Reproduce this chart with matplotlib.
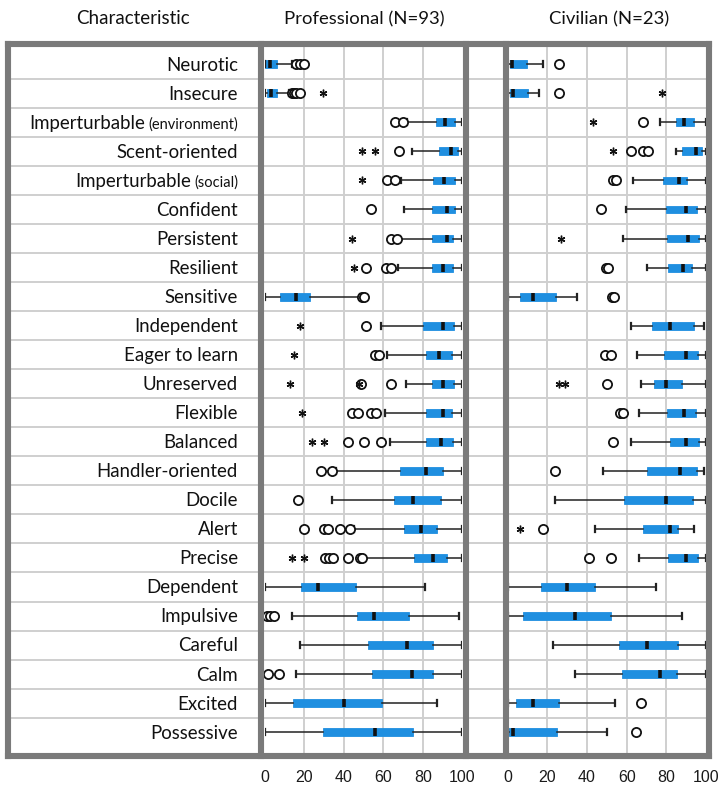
import matplotlib
matplotlib.use("Agg")
import matplotlib.pyplot as plt
from matplotlib.lines import Line2D
import matplotlib.transforms as mtrans

# ---------------- data ----------------
categories = ["Neurotic", "Insecure", "Imperturbable", "Scent-oriented", "Imperturbable",
              "Confident", "Persistent", "Resilient", "Sensitive", "Independent",
              "Eager to learn", "Unreserved", "Flexible", "Balanced", "Handler-oriented",
              "Docile", "Alert", "Precise", "Dependent", "Impulsive", "Careful", "Calm",
              "Excited", "Possessive"]
category_notes = ["", "", "(environment)", "", "(social)", "", "", "", "", "", "", "", "",
                  "", "", "", "", "", "", "", "", "", "", ""]

panel_titles = ["Professional (N=93)", "Civilian (N=23)"]
tick_values = [0, 20, 40, 60, 80, 100]

prof_whislo = [0, 0, 72, 74.4, 69, 70.5, 68.5, 67.6, 0, 59, 62, 71.5, 61, 63.4, 36, 34, 45, 50,
               0, 14, 18, 16, 0, 0]
prof_q1 = [0, 1.3, 86.5, 88.4, 85.3, 84.5, 84.5, 84.5, 7.5, 80.3, 81.4, 84.5, 81.4, 81.4, 68.5,
           65.4, 70.5, 75.7, 18.3, 46.5, 52.4, 54.4, 14.4, 29.3]
prof_med = [2.6, 3.1, 91.2, 94.3, 90.7, 92.4, 92.4, 90.4, 16, 90.4, 88.4, 90.4, 90.4, 89.2, 81.4,
            75.2, 79, 85, 27, 55.3, 72, 74.4, 40.3, 56]
prof_q3 = [6, 6, 96.3, 98, 96.3, 96.3, 95.5, 95.5, 23, 96, 94.6, 96, 95, 95.5, 90.4, 89.2, 87.4,
           92, 46, 73.2, 85.3, 85.3, 59.2, 75.2]
prof_whishi = [14, 12.5, 100, 100, 100, 100, 100, 100, 48, 100, 100, 100, 100, 100, 100, 100, 100,
               100, 81, 98.3, 100, 100, 87.4, 100]
prof_circles = [[16, 18, 20], [13.6, 15, 16, 18], [66, 70], [68], [62, 66], [54], [64, 67],
                [51, 61.5, 64], [49, 50], [51], [56, 58], [48.5, 64], [44, 47, 54, 56.3],
                [42.3, 50, 59], [28.3, 34], [17], [20, 30, 31.8, 38, 43],
                [30.5, 32.5, 34.7, 42.3, 48, 49], [], [1, 2.6, 4.7], [], [1.8, 7], [], []]
prof_stars = [[], [29.3], [], [49, 56], [49], [], [44], [45], [], [18], [15], [12.8, 47.5],
              [19], [24, 30], [], [], [], [14, 20], [], [], [], [], [], []]

civ_whislo = [0, 0, 77, 85, 63, 59.7, 58, 70, 0, 62, 65, 67, 66, 62, 48, 24, 44, 66, 0, 0, 22.7,
              34, 0, 0]
civ_q1 = [1, 1, 85, 87.7, 78.5, 80, 80.5, 81, 6.2, 72.6, 79, 73.8, 80.5, 81.8, 70.4, 58.8, 68,
          80.7, 16.6, 7.5, 56, 57.8, 4.2, 0.8]
civ_med = [2, 2.8, 89, 95, 86.6, 90, 91, 88.6, 12.9, 81.8, 90, 79.8, 89, 90, 87, 79.8, 81.8, 90,
           30, 34, 70, 77, 13, 2.8]
civ_q3 = [9.6, 10, 94, 98, 90.6, 95.3, 96.5, 92.8, 24.4, 94, 95.8, 88, 95, 96.6, 95.3, 93.3, 85.7,
          95.8, 44, 52, 86, 85.5, 26, 24.7]
civ_whishi = [18, 16, 100, 100, 100, 100, 100, 100, 35, 99, 100, 100, 100, 100, 99, 100, 94, 100,
              75, 87.7, 100, 100, 54, 50]
civ_circles = [[26], [26], [68], [62, 68, 71], [53, 54.6], [47], [], [49.5, 50.5], [52.5, 53.5],
               [], [49, 52], [50], [56.6, 58.3], [53], [24], [], [18], [41, 52], [], [], [], [],
               [67], [64.7]]
civ_stars = [[], [78], [43], [53], [], [], [26.7], [], [], [], [], [26, 29], [], [], [], [], [6],
             [], [], [], [], [], [], []]

# ---------------- style ----------------
BLUE = "#1f8fe0"
GRID = "#cfcfcf"
BORDER = "#7a7a7a"
LABEL_FONT = "Lato"
TICK_FONT = "Liberation Sans"

W, H = 723, 791
fig = plt.figure(figsize=(W / 100, H / 100), dpi=100)


def fx(px):
    return px / W


def fy(py):
    return 1 - py / H


def add_axes_px(x0, x1, y0, y1):
    return fig.add_axes([fx(x0), fy(y1), (x1 - x0) / W, (y1 - y0) / H])


Y_TOP, Y_BOT = 44, 756
ROW0, PITCH = 64.3, 29.04
YLIM = ((Y_BOT - ROW0) / PITCH, (Y_TOP - ROW0) / PITCH)
n = len(categories)

# background axes with row lines
bg = add_axes_px(8.3, 709, Y_TOP, Y_BOT)
bg.set_xlim(0, 1)
bg.set_ylim(*YLIM)
bg.axis("off")
for k in range(n - 1):
    bg.axhline(k + 0.5, color=GRID, lw=1.4, zorder=0)


def draw_panel(x0, x1, wl, q1, med, q3, wh, circles, stars):
    ax = add_axes_px(x0, x1, Y_TOP, Y_BOT)
    ax.patch.set_alpha(0)
    stats = [dict(whislo=wl[i], q1=q1[i], med=med[i], q3=q3[i], whishi=wh[i], fliers=[])
             for i in range(n)]
    kw = dict(positions=list(range(n)), widths=0.27, patch_artist=True, showfliers=False,
              manage_ticks=False, capwidths=0.2,
              boxprops=dict(facecolor=BLUE, edgecolor=BLUE, lw=0.6),
              medianprops=dict(color="#111111", lw=2.6, solid_capstyle="butt"),
              whiskerprops=dict(color="#222222", lw=1.1),
              capprops=dict(color="#222222", lw=1.6))
    try:
        ax.bxp(stats, orientation="horizontal", **kw)
    except TypeError:
        ax.bxp(stats, vert=False, **kw)
    for i in range(n):
        if circles[i]:
            ax.plot(circles[i], [i] * len(circles[i]), "o", mfc="white", mec="#111111",
                    ms=6.6, mew=1.3, clip_on=False, zorder=4)
        if stars[i]:
            ax.plot(stars[i], [i] * len(stars[i]), marker=(6, 2, 0), ls="none",
                    mec="#111111", ms=5.5, mew=1.0, clip_on=False, zorder=4)
    ax.set_xlim(0, 100)
    ax.set_ylim(*YLIM)
    ax.set_yticks([])
    ax.set_xticks(tick_values)
    ax.set_xticklabels([str(t) for t in tick_values], fontsize=11.5, family=TICK_FONT,
                       color="#1a1a1a")
    ax.tick_params(axis="x", length=0, pad=10)
    for t in tick_values[1:-1]:
        ax.axvline(t, color=GRID, lw=1.4, zorder=0)
    for s in ax.spines.values():
        s.set_visible(False)
    return ax


draw_panel(264.8, 462.3, prof_whislo, prof_q1, prof_med, prof_q3, prof_whishi,
           prof_circles, prof_stars)
draw_panel(507.7, 706, civ_whislo, civ_q1, civ_med, civ_q3, civ_whishi,
           civ_circles, civ_stars)

# frame lines
def fig_line(xa, ya, xb, yb):
    fig.add_artist(Line2D([fx(xa), fx(xb)], [fy(ya), fy(yb)], transform=fig.transFigure,
                          color=BORDER, lw=4.4, solid_capstyle="projecting", zorder=20))


fig_line(8.3, 44, 709, 44)
fig_line(8.3, 756, 709, 756)
for xv in [8.3, 261.3, 465.5, 506, 709]:
    fig_line(xv, 44, xv, 756)

# headers
header_y = fy(19)
fig.text(fx(133), header_y, "Characteristic", ha="center", va="center", fontsize=13.5,
         family=LABEL_FONT, color="#111111")
fig.text(fx(364), header_y, panel_titles[0], ha="center", va="center", fontsize=13.3,
         family=LABEL_FONT, color="#111111")
fig.text(fx(609), header_y, panel_titles[1], ha="center", va="center", fontsize=13.3,
         family=LABEL_FONT, color="#111111")

# row labels
renderer = fig.canvas.get_renderer()
LABEL_X = 238
trans = mtrans.blended_transform_factory(fig.transFigure, bg.transData)
pix_trans = mtrans.blended_transform_factory(mtrans.IdentityTransform(), bg.transData)
for i, (lab, note) in enumerate(zip(categories, category_notes)):
    yb = i + 0.22
    if note:
        small = fig.text(fx(LABEL_X), yb, note, ha="right", va="baseline", fontsize=10.5,
                         family=LABEL_FONT, color="#111111", transform=trans)
        bb = small.get_window_extent(renderer)
        fig.text(bb.x0 - 3, yb, lab, ha="right", va="baseline", fontsize=13.4,
                 family=LABEL_FONT, color="#111111", transform=pix_trans)
    else:
        fig.text(fx(LABEL_X), yb, lab, ha="right", va="baseline", fontsize=13.4,
                 family=LABEL_FONT, color="#111111", transform=trans)

fig.savefig("out.png", dpi=100)
